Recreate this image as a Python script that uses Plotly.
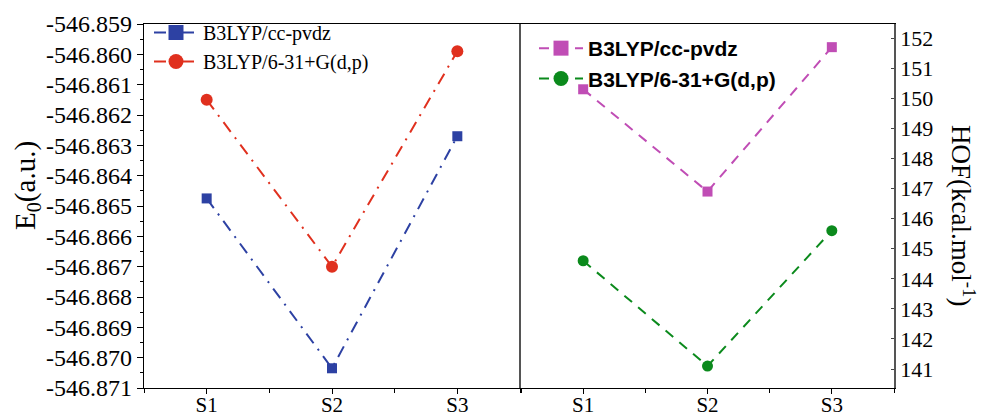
import plotly.graph_objects as go

categories = ["S1", "S2", "S3"]
e0_ccpvdz = [-546.86475, -546.87035, -546.86270]
e0_631g = [-546.8615, -546.8670, -546.8599]
hof_ccpvdz = [150.3, 146.9, 151.7]
hof_631g = [144.6, 141.1, 145.6]
e0_ticks = [-546.859 - 0.001 * i for i in range(13)]
e0_ticktext = ["%.3f" % v for v in e0_ticks]
hof_ticks = list(range(141, 153))

xpos = [i + 1 for i in range(len(categories))]

W, H = 981, 417
def fx(px): return px / W
def fy(py): return 1 - py / H

serif = "Liberation Serif, Times New Roman, serif"
sans = "Liberation Sans, Arial, sans-serif"

BLUE, RED, MAG, GREEN = "#2D41A3", "#E0301E", "#C04DB5", "#0B8A1C"
DASHDOT = "12px,7px,2px,7px"
DASH = "10px,8px"

series = [
    ("B3LYP/cc-pvdz", e0_ccpvdz, BLUE, "square", 10, DASHDOT, "x", "y", "legend"),
    ("B3LYP/6-31+G(d,p)", e0_631g, RED, "circle", 12, DASHDOT, "x", "y", "legend"),
    ("<b>B3LYP/cc-pvdz</b>", hof_ccpvdz, MAG, "square", 10, DASH, "x2", "y2", "legend2"),
    ("<b>B3LYP/6-31+G(d,p)</b>", hof_631g, GREEN, "circle", 11, DASH, "x2", "y2", "legend2"),
]

fig = go.Figure()
for name, vals, col, sym, size, dash, xa, ya, lg in series:
    fig.add_trace(go.Scatter(x=xpos, y=vals, mode="lines+markers", showlegend=False,
                             line=dict(color=col, width=2, dash=dash),
                             marker=dict(symbol=sym, size=size, color=col),
                             xaxis=xa, yaxis=ya))
    # legend entry with the larger legend marker
    fig.add_trace(go.Scatter(x=[None], y=[None], name=name, mode="lines+markers",
                             line=dict(color=col, width=2, dash=dash),
                             marker=dict(symbol=sym, size=15, color=col),
                             xaxis=xa, yaxis=ya, legend=lg))

ydom = [fy(388), fy(24)]
xcommon = dict(range=[0.5, 3.5], tickvals=xpos, ticktext=categories, ticks="outside",
               ticklen=5, tickwidth=1.2, tickcolor="black", showline=True, linecolor="black",
               linewidth=1.3, showgrid=False, zeroline=False, automargin=False,
               ticklabelstandoff=-7,
               tickfont=dict(family=serif, size=21, color="black"),
               minor=dict(tickvals=[0.5, 1.5, 2.5, 3.5], ticks="outside", ticklen=4,
                          tickcolor="black", showgrid=False))

fig.update_layout(
    width=W, height=H, margin=dict(l=0, r=0, t=0, b=0),
    plot_bgcolor="white", paper_bgcolor="white",
    xaxis=dict(domain=[fx(144), fx(520)], anchor="y", mirror=True, **xcommon),
    xaxis2=dict(domain=[fx(521), fx(894)], anchor="y2", mirror=True, **xcommon),
    yaxis=dict(domain=ydom, anchor="x", range=[-546.871, -546.859], tickvals=e0_ticks,
               ticktext=e0_ticktext, ticks="outside", ticklen=6, tickwidth=1.2,
               tickcolor="black", showline=True, linecolor="black", linewidth=1.3,
               mirror=True, showgrid=False, zeroline=False, automargin=False,
               tickfont=dict(family=serif, size=24, color="black"),
               minor=dict(dtick=0.0005, tick0=-546.871, ticks="outside", ticklen=3,
                          tickcolor="black", showgrid=False)),
    yaxis2=dict(domain=ydom, anchor="x2", side="right", range=[140.37, 152.47],
                tickvals=hof_ticks, ticks="inside", ticklen=3, tickwidth=1,
                tickcolor="#444", showline=True, linecolor="#555", linewidth=1.5,
                mirror=True, showgrid=False, zeroline=False, automargin=False,
                tickfont=dict(family=serif, size=22, color="black")),
    legend=dict(x=fx(149), y=fy(13), xanchor="left", yanchor="top",
                bgcolor="rgba(0,0,0,0)", font=dict(family=serif, size=20, color="black"),
                tracegroupgap=0, itemwidth=44),
    legend2=dict(x=fx(534), y=fy(28), xanchor="left", yanchor="top",
                 bgcolor="rgba(0,0,0,0)", font=dict(family=sans, size=21, color="black"),
                 tracegroupgap=0, itemwidth=44),
    annotations=[
        dict(text="E<sub>0</sub>(a.u.)", x=fx(27), y=fy(186), xref="paper", yref="paper",
             xanchor="center", yanchor="middle",
             textangle=-90, showarrow=False, font=dict(family=serif, size=29, color="black")),
        dict(text="HOF(kcal.mol<sup>-1</sup>)", x=fx(963), y=fy(215), xref="paper", yref="paper",
             xanchor="center", yanchor="middle",
             textangle=90, showarrow=False, font=dict(family=serif, size=27, color="black")),
    ],
)

fig.write_html("out.html", config={"displayModeBar": False},
               post_script="document.body.style.margin='0px';")
